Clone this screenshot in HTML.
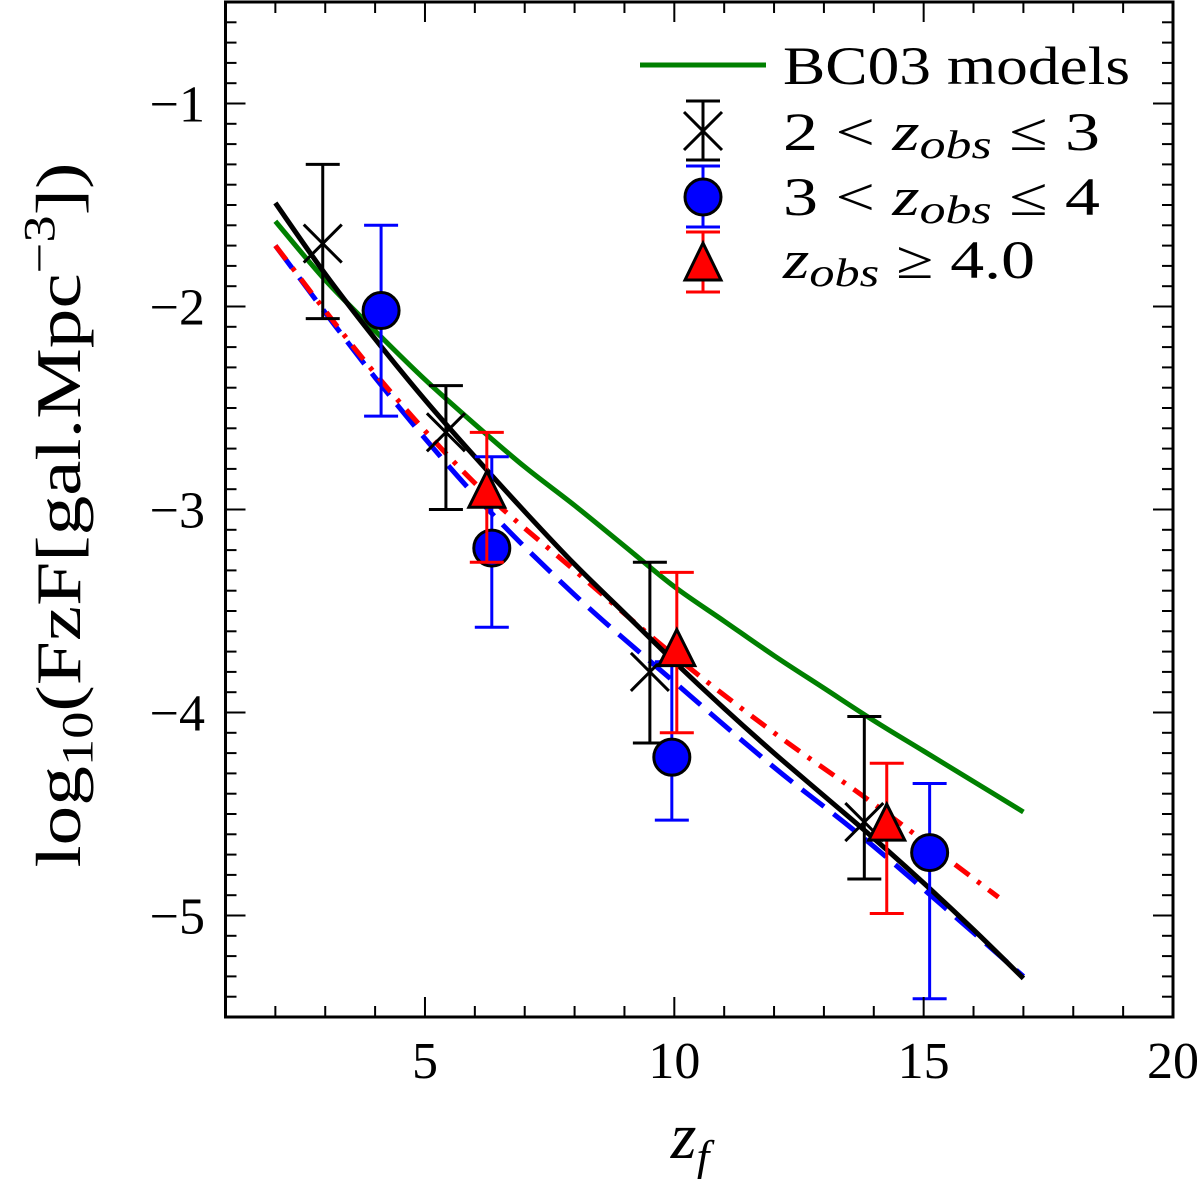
<!DOCTYPE html>
<html><head><meta charset="utf-8"><style>
html,body{margin:0;padding:0;background:#fff;}
svg text{font-family:"Liberation Serif",serif;fill:#000;}
</style></head><body>
<svg id="chart" width="1200" height="1179" viewBox="0 0 1200 1179" xmlns="http://www.w3.org/2000/svg">
<g id="lines"></g>
<g id="points"></g>
<g id="axes"></g>
<g id="legend">
  <line x1="640" y1="65" x2="766" y2="65" stroke="#008000" stroke-width="5"/>
  <text x="783" y="84" font-size="54" textLength="347" lengthAdjust="spacingAndGlyphs">BC03 models</text>
  <text x="783" y="150" font-size="54" textLength="317" lengthAdjust="spacingAndGlyphs">2 &lt; <tspan font-style="italic">z</tspan><tspan font-style="italic" font-size="40" dy="8">obs</tspan><tspan dy="-8"> ≤ 3</tspan></text>
  <text x="783" y="215" font-size="54" textLength="317" lengthAdjust="spacingAndGlyphs">3 &lt; <tspan font-style="italic">z</tspan><tspan font-style="italic" font-size="40" dy="8">obs</tspan><tspan dy="-8"> ≤ 4</tspan></text>
  <text x="783" y="278" font-size="54" textLength="252" lengthAdjust="spacingAndGlyphs"><tspan font-style="italic">z</tspan><tspan font-style="italic" font-size="40" dy="8">obs</tspan><tspan dy="-8"> ≥ 4.0</tspan></text>
</g>
<text x="80" y="515" font-size="64" text-anchor="middle" textLength="705" lengthAdjust="spacingAndGlyphs" transform="rotate(-90 80 515)">log<tspan font-size="44" dy="12">10</tspan><tspan dy="-12">(FzF[gal.Mpc</tspan><tspan font-size="44" dy="-26">−3</tspan><tspan dy="26">])</tspan></text>
<text x="690" y="1158" font-size="66" font-style="italic" text-anchor="middle">z<tspan font-size="46" dy="14">f</tspan></text>
</svg>
<script>
const xTicks=[5,10,15,20];
const yTicks=[-1,-2,-3,-4,-5];
const greenX=[2,3,4,5,6,7,8,9,10,11,12,13,14,15,16,17];
const greenY=[-1.58,-1.87,-2.12,-2.36,-2.58,-2.79,-2.98,-3.18,-3.38,-3.55,-3.72,-3.88,-4.04,-4.19,-4.34,-4.49];
const blackX=[2,3,4,5,6,7,8,9,10,11,12,13,14,15,16,17];
const blackY=[-1.49,-1.84,-2.16,-2.46,-2.74,-3.01,-3.27,-3.51,-3.75,-3.98,-4.2,-4.41,-4.62,-4.84,-5.07,-5.31];
const blueLX=[2,4,6,8,10,12,14,17];
const blueLY=[-1.7,-2.35,-2.93,-3.42,-3.85,-4.27,-4.66,-5.3];
const redLX=[2,4,6,8,10,12,14,16.5];
const redLY=[-1.7,-2.33,-2.87,-3.3,-3.72,-4.1,-4.45,-4.91];
const xsX=[2.95,5.42,9.51,13.81];
const xsY=[-1.69,-2.62,-3.8,-4.54];
const xsHi=[-1.3,-2.39,-3.26,-4.02];
const xsLo=[-2.06,-3.0,-4.15,-4.82];
const ciX=[4.12,6.34,9.95,15.12];
const ciY=[-2.02,-3.19,-4.22,-4.69];
const ciHi=[-1.6,-2.74,-3.75,-4.35];
const ciLo=[-2.54,-3.58,-4.53,-5.41];
const trX=[6.24,10.05,14.26];
const trY=[-2.91,-3.69,-4.55];
const trHi=[-2.62,-3.31,-4.25];
const trLo=[-3.26,-4.1,-4.99];

const X0=225.5,X1=1173,Y0=2,Y1=1017,xmin=1,xmax=20,ymin=-5.5,ymax=-0.5;
const sx=v=>X0+(v-xmin)/(xmax-xmin)*(X1-X0);
const sy=v=>Y0+(ymax-v)/(ymax-ymin)*(Y1-Y0);
const NS='http://www.w3.org/2000/svg';
function mk(tag,attrs,parent){const e=document.createElementNS(NS,tag);for(const k in attrs)e.setAttribute(k,attrs[k]);parent.appendChild(e);return e;}
const gL=document.getElementById('lines'),gP=document.getElementById('points'),gA=document.getElementById('axes');

function smoothPath(xs,ys){
  const P=xs.map((x,i)=>[sx(x),sy(ys[i])]);
  let d='M'+P[0][0]+','+P[0][1];
  for(let i=0;i<P.length-1;i++){
    const p0=P[i-1]||P[i],p1=P[i],p2=P[i+1],p3=P[i+2]||p2;
    const c1=[p1[0]+(p2[0]-p0[0])/6,p1[1]+(p2[1]-p0[1])/6];
    const c2=[p2[0]-(p3[0]-p1[0])/6,p2[1]-(p3[1]-p1[1])/6];
    d+=` C${c1[0]},${c1[1]} ${c2[0]},${c2[1]} ${p2[0]},${p2[1]}`;
  }
  return d;
}
function poly(xs,ys,color,w,dash,name){
  const p=mk('path',{d:smoothPath(xs,ys),fill:'none',stroke:color,'stroke-width':w,'stroke-dasharray':dash||'none','stroke-linejoin':'round'},gL);
  
  
}
poly(greenX,greenY,'#008000',5,null,'bc03-model-line');
poly(blueLX,blueLY,'#0000ff',5,'28 12','blue-fit-line');
poly(redLX,redLY,'#ff0000',5,'18 10 4 10','red-fit-line');
poly(blackX,blackY,'#000',5,null,'black-fit-line');

function err(x,hi,lo,color){
  const g=mk('g',{stroke:color,'stroke-width':3},gP);
  
  
  const cx=sx(x);
  mk('line',{x1:cx,x2:cx,y1:sy(hi),y2:sy(lo)},g);
  mk('line',{x1:cx-17,x2:cx+17,y1:sy(hi),y2:sy(hi)},g);
  mk('line',{x1:cx-17,x2:cx+17,y1:sy(lo),y2:sy(lo)},g);
}
xsX.forEach((x,i)=>{err(x,xsHi[i],xsLo[i],'#000');
  const cx=sx(x),cy=sy(xsY[i]),r=19;
  const g=mk('g',{stroke:'#000','stroke-width':3},gP);
  
  
  mk('line',{x1:cx-r,y1:cy-r,x2:cx+r,y2:cy+r},g);mk('line',{x1:cx-r,y1:cy+r,x2:cx+r,y2:cy-r},g);});
ciX.forEach((x,i)=>{err(x,ciHi[i],ciLo[i],'#0000ff');
  const c=mk('circle',{cx:sx(x),cy:sy(ciY[i]),r:18,fill:'#0000ff',stroke:'#000','stroke-width':3},gP);
  
  });
trX.forEach((x,i)=>{err(x,trHi[i],trLo[i],'#ff0000');
  const cx=sx(x),cy=sy(trY[i]);
  const t=mk('polygon',{points:`${cx},${cy-20} ${cx-18},${cy+16} ${cx+18},${cy+16}`,fill:'#ff0000',stroke:'#000','stroke-width':3},gP);
  
  });

(function(){const lg=document.getElementById('legend');const cx=703;
  function lerr(y1,y2,c){mk('line',{x1:cx,x2:cx,y1:y1,y2:y2,stroke:c,'stroke-width':3},lg);mk('line',{x1:cx-17,x2:cx+17,y1:y1,y2:y1,stroke:c,'stroke-width':3},lg);mk('line',{x1:cx-17,x2:cx+17,y1:y2,y2:y2,stroke:c,'stroke-width':3},lg);}
  lerr(101,160,'#000');mk('line',{x1:cx-19,y1:112,x2:cx+19,y2:150,stroke:'#000','stroke-width':3},lg);mk('line',{x1:cx-19,y1:150,x2:cx+19,y2:112,stroke:'#000','stroke-width':3},lg);
  lerr(166,227,'#0000ff');mk('circle',{cx:cx,cy:197,r:18,fill:'#0000ff',stroke:'#000','stroke-width':3},lg);
  lerr(232,292,'#ff0000');mk('polygon',{points:`${cx},${243} ${cx-18},${280} ${cx+18},${280}`,fill:'#ff0000',stroke:'#000','stroke-width':3},lg);
})();

const fr=mk('rect',{x:X0,y:Y0,width:X1-X0,height:Y1-Y0,fill:'none',stroke:'#000','stroke-width':3},gA);


for(let v=2;v<20;v++){const big=v%5===0,L=big?20:11;
  mk('line',{x1:sx(v),x2:sx(v),y1:Y1,y2:Y1-L,stroke:'#000','stroke-width':2},gA);
  mk('line',{x1:sx(v),x2:sx(v),y1:Y0,y2:Y0+L,stroke:'#000','stroke-width':2},gA);}
for(let k=-54;k<=-6;k++){const v=k/10;const big=k%10===0,L=big?20:11;
  mk('line',{x1:X0,x2:X0+L,y1:sy(v),y2:sy(v),stroke:'#000','stroke-width':2},gA);
  mk('line',{x1:X1,x2:X1-L,y1:sy(v),y2:sy(v),stroke:'#000','stroke-width':2},gA);}
xTicks.forEach(v=>{const t=mk('text',{x:sx(v),y:1078,'font-size':52,'text-anchor':'middle'},gA);t.textContent=v;
  
  });
yTicks.forEach(v=>{const t=mk('text',{x:205,y:sy(v)+18,'font-size':52,'text-anchor':'end'},gA);t.textContent='−'+Math.abs(v);
  
  });
</script>
</body></html>
